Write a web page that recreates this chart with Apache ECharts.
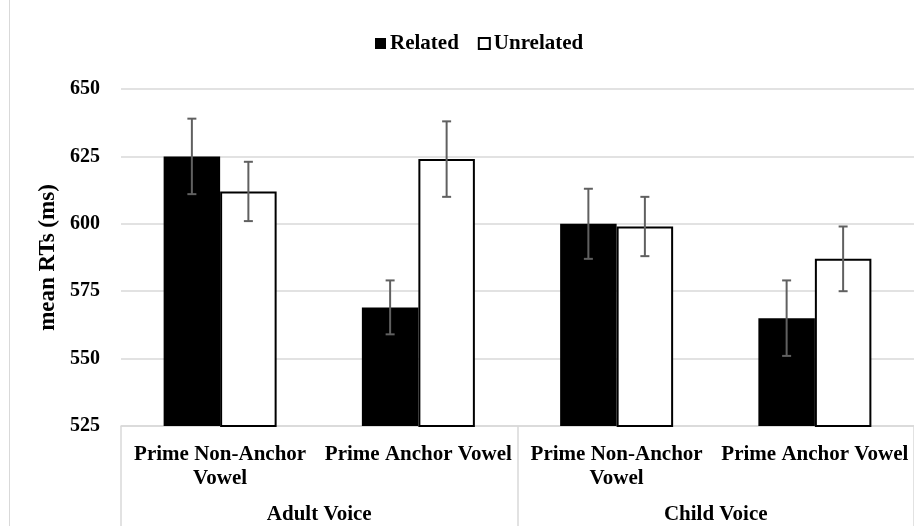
<!DOCTYPE html>
<html>
<head>
<meta charset="utf-8">
<script src="https://cdn.jsdelivr.net/npm/echarts@6/dist/echarts.min.js"></script>
<style>html,body{margin:0;padding:0;background:#fff}#c{width:914px;height:526px}</style>
</head>
<body>
<div id="c"></div>
<script>
const categories = ['Prime Non-Anchor\nVowel', 'Prime Anchor Vowel', 'Prime Non-Anchor\nVowel', 'Prime Anchor Vowel'];
const groups = ['Adult Voice', 'Child Voice'];
const seriesNames = ['Related', 'Unrelated'];
const related = [625, 569, 600, 565];
const unrelated = [612, 624, 599, 587];
const relatedErr = [14, 10, 13, 14];
const unrelatedErr = [11, 14, 11, 12];
const yTicks = [525, 550, 575, 600, 625, 650];

const FONT = 'Liberation Serif';
const BAR_W = 56.5;
const ERR_COLOR = '#606060';

function errSeries(values, errs, side) {
  return {
    type: 'custom',
    xAxisIndex: 0,
    yAxisIndex: 0,
    z: 10,
    silent: true,
    data: values.map((v, i) => [i, v - errs[i], v + errs[i]]),
    renderItem: function (params, api) {
      const x = api.value(0);
      const lo = api.coord([x, api.value(1)]);
      const hi = api.coord([x, api.value(2)]);
      const cx = lo[0] + side * BAR_W / 2;
      const cap = 4.5;
      const st = { stroke: ERR_COLOR, lineWidth: 2 };
      return {
        type: 'group',
        children: [
          { type: 'line', shape: { x1: cx, y1: lo[1], x2: cx, y2: hi[1] }, style: st },
          { type: 'line', shape: { x1: cx - cap, y1: lo[1], x2: cx + cap, y2: lo[1] }, style: st },
          { type: 'line', shape: { x1: cx - cap, y1: hi[1], x2: cx + cap, y2: hi[1] }, style: st }
        ]
      };
    }
  };
}

const chart = echarts.init(document.getElementById('c'), null, { renderer: 'canvas' });
chart.setOption({
  animation: false,
  backgroundColor: '#fff',
  textStyle: { fontFamily: FONT },
  graphic: [{
    type: 'line', shape: { x1: 9.5, y1: 0, x2: 9.5, y2: 526 },
    style: { stroke: '#d9d9d9', lineWidth: 1 }
  }],
  legend: {
    data: seriesNames,
    top: 28,
    left: 370,
    icon: 'rect',
    itemWidth: 11,
    itemHeight: 11,
    itemGap: 19,
    textStyle: { fontFamily: FONT, fontWeight: 'bold', fontSize: 21, color: '#000', padding: [0, 0, 0, -1] }
  },
  grid: { left: 121, right: -2, top: 89, bottom: 100, containLabel: false },
  xAxis: [{
    type: 'category',
    data: categories,
    position: 'bottom',
    axisLine: { show: true, lineStyle: { color: '#d9d9d9', width: 1.5 } },
    axisTick: { show: false },
    axisLabel: {
      interval: 0, margin: 17, color: '#000', fontFamily: FONT, fontWeight: 'bold',
      fontSize: 21, lineHeight: 24
    }
  }, {
    type: 'category',
    data: groups,
    position: 'bottom',
    axisLine: { show: false },
    axisTick: { show: true, interval: 0, length: 110, inside: false, lineStyle: { color: '#d9d9d9', width: 1.5 } },
    axisLabel: { interval: 0, margin: 78, color: '#000', fontFamily: FONT, fontWeight: 'bold', fontSize: 21 }
  }],
  yAxis: {
    type: 'value',
    min: yTicks[0],
    max: yTicks[yTicks.length - 1],
    interval: 25,
    name: 'mean RTs (ms)',
    nameLocation: 'middle',
    nameRotate: 90,
    nameGap: 55,
    nameTextStyle: { fontFamily: FONT, fontWeight: 'bold', fontSize: 23, color: '#000' },
    axisLine: { show: false },
    axisTick: { show: false },
    axisLabel: { margin: 21, color: '#000', fontFamily: FONT, fontWeight: 'bold', fontSize: 20 },
    splitLine: { lineStyle: { color: '#d9d9d9', width: 1.5 } }
  },
  series: [{
    name: seriesNames[0],
    type: 'bar',
    data: related,
    barWidth: BAR_W,
    barGap: '0%',
    itemStyle: { color: '#000' }
  }, {
    name: seriesNames[1],
    type: 'bar',
    data: unrelated,
    barWidth: BAR_W,
    barGap: '0%',
    itemStyle: { color: '#fff', borderColor: '#000', borderWidth: 2 }
  },
  errSeries(related, relatedErr, -1),
  errSeries(unrelated, unrelatedErr, 1)]
});
</script>
</body>
</html>
